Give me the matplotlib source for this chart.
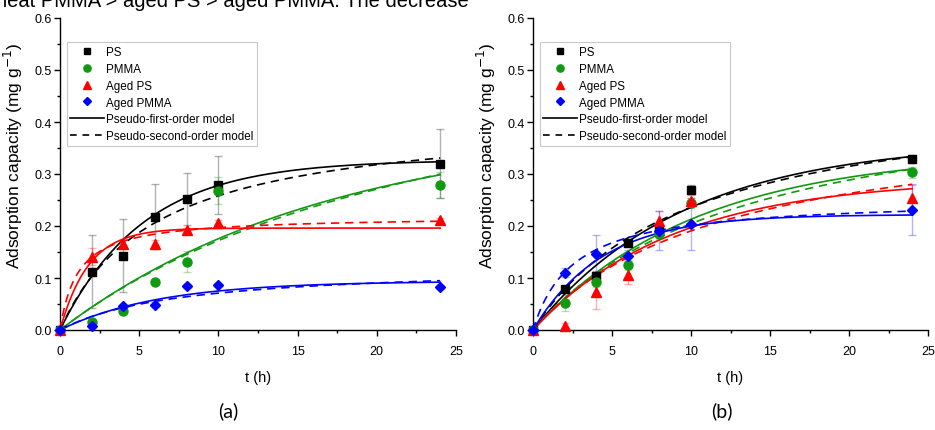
import numpy as np
import matplotlib
matplotlib.use("Agg")
import matplotlib.pyplot as plt
from matplotlib.lines import Line2D
from matplotlib.ticker import MultipleLocator

plt.rcParams['font.family'] = ['Liberation Sans', 'DejaVu Sans']

# ---------------- data ----------------
t = [0, 2, 4, 6, 8, 10, 24]
series_names = ["PS", "PMMA", "Aged PS", "Aged PMMA"]

# panel (a)
a_PS = [0, 0.112, 0.143, 0.218, 0.251, 0.279, 0.320]
a_PMMA = [0, 0.015, 0.037, 0.093, 0.131, 0.268, 0.279]
a_agedPS = [0, 0.141, 0.165, 0.165, 0.192, 0.206, 0.211]
a_agedPMMA = [0, 0.008, 0.046, 0.049, 0.084, 0.087, 0.083]
a_PS_err = [0, 0.070, 0.070, 0.063, 0.050, 0.055, 0.067]
a_PMMA_err = [0, 0.005, 0.005, 0.005, 0.020, 0.026, 0.025]
a_agedPS_err = [0, 0.016, 0.008, 0.008, 0.005, 0.005, 0.005]
a_agedPMMA_err = [0, 0.004, 0.004, 0.004, 0.004, 0.004, 0.004]
# fitted parameters (qe, k) : pseudo-first-order / pseudo-second-order
a_pfo_qe = [0.327, 0.394, 0.196, 0.094]
a_pfo_k = [0.19, 0.059, 0.56, 0.16]
a_pso_qe = [0.414, 0.64, 0.219, 0.125]
a_pso_k = [0.40, 0.0574, 4.06, 1.05]

# panel (b)
b_PS = [0, 0.079, 0.103, 0.167, 0.190, 0.270, 0.329]
b_PMMA = [0, 0.052, 0.092, 0.125, 0.185, 0.244, 0.303]
b_agedPS = [0, 0.008, 0.074, 0.106, 0.210, 0.249, 0.253]
b_agedPMMA = [0, 0.110, 0.146, 0.143, 0.191, 0.204, 0.231]
b_PS_err = [0, 0.005, 0.010, 0.008, 0.010, 0.008, 0.008]
b_PMMA_err = [0, 0.015, 0.010, 0.010, 0.010, 0.010, 0.010]
b_agedPS_err = [0, 0.005, 0.033, 0.017, 0.018, 0.010, 0.025]
b_agedPMMA_err = [0, 0.009, 0.037, 0.010, 0.037, 0.050, 0.049]
b_pfo_qe = [0.363, 0.343, 0.291, 0.222]
b_pfo_k = [0.105, 0.097, 0.113, 0.23]
b_pso_qe = [0.472, 0.489, 0.422, 0.253]
b_pso_k = [0.212, 0.147, 0.195, 1.55]

colors = ["#000000", "#119911", "#ff0000", "#0000ff"]
markers = ["s", "o", "^", "D"]
msizes = [6, 6.5, 7, 5.5]

top_text = "neat PMMA > aged PS > aged PMMA. The decrease"
panel_labels = ["(a)", "(b)"]
xlabel = "t (h)"
ylabel = "Adsorption capacity (mg g$^{-1}$)"
legend_labels = series_names + ["Pseudo-first-order model", "Pseudo-second-order model"]


def pfo(tt, qe, k):
    return qe * (1 - np.exp(-k * tt))


def pso(tt, qe, k):
    return qe ** 2 * k * tt / (1 + qe * k * tt)


fig = plt.figure(figsize=(9.35, 4.31), dpi=100)
ax1 = fig.add_axes([60 / 935, 100 / 431, 396 / 935, 312 / 431])
ax2 = fig.add_axes([533 / 935, 100 / 431, 395 / 935, 312 / 431])

panels = [
    (ax1, [a_PS, a_PMMA, a_agedPS, a_agedPMMA],
     [a_PS_err, a_PMMA_err, a_agedPS_err, a_agedPMMA_err],
     a_pfo_qe, a_pfo_k, a_pso_qe, a_pso_k),
    (ax2, [b_PS, b_PMMA, b_agedPS, b_agedPMMA],
     [b_PS_err, b_PMMA_err, b_agedPS_err, b_agedPMMA_err],
     b_pfo_qe, b_pfo_k, b_pso_qe, b_pso_k),
]

tt = np.linspace(0, 24, 300)
for ax, ys, errs, pq, pk, sq, sk in panels:
    for i in range(4):
        ax.plot(tt, pfo(tt, pq[i], pk[i]), color=colors[i], lw=1.2, zorder=3)
        ax.plot(tt, pso(tt, sq[i], sk[i]), color=colors[i], lw=1.2,
                dashes=(5, 3.5), zorder=3)
    for i in range(4):
        ax.errorbar(t, ys[i], yerr=errs[i], fmt='none', ecolor=colors[i],
                    alpha=0.3, elinewidth=1, capsize=3, capthick=1, zorder=2)
        ax.plot(t, ys[i], linestyle='none', marker=markers[i], ms=msizes[i],
                color=colors[i], mec=colors[i], zorder=4, clip_on=False)
    ax.set_xlim(0, 25)
    ax.set_ylim(0, 0.6)
    ax.xaxis.set_major_locator(MultipleLocator(5))
    ax.xaxis.set_minor_locator(MultipleLocator(2.5))
    ax.yaxis.set_major_locator(MultipleLocator(0.1))
    ax.yaxis.set_minor_locator(MultipleLocator(0.05))
    ax.yaxis.set_major_formatter(matplotlib.ticker.FormatStrFormatter('%.1f'))
    for s in ['top', 'right']:
        ax.spines[s].set_visible(False)
    for s in ['left', 'bottom']:
        ax.spines[s].set_linewidth(1.0)
    ax.tick_params(which='major', direction='out', length=4, width=1, labelsize=9, pad=2)
    ax.tick_params(which='minor', direction='out', length=2.5, width=1)
    ax.tick_params(axis='x', pad=7)
    ax.set_xlabel(xlabel, fontsize=10.5, labelpad=9)
    ax.set_ylabel(ylabel, fontsize=12.5)
    ax.yaxis.set_label_coords(-0.088, 0.56)

    handles = [Line2D([], [], linestyle='none', marker=markers[i], color=colors[i],
                      ms=msizes[i] * 0.8) for i in range(4)]
    handles.append(Line2D([], [], color='black', lw=1.2))
    handles.append(Line2D([], [], color='black', lw=1.2, dashes=(4, 3.5)))
    leg = ax.legend(handles, legend_labels, loc='upper left',
                    bbox_to_anchor=(0.017, 0.922), fontsize=8.4,
                    handlelength=2.9, handletextpad=0.15, labelspacing=0.42,
                    borderpad=0.3, borderaxespad=0, fancybox=False,
                    frameon=True, edgecolor='#bbbbbb')
    leg.get_frame().set_linewidth(0.8)

fig.text(228 / 935, 1 - 411 / 431, panel_labels[0], fontsize=14, family='Lato',
         ha='center', va='center')
fig.text(722 / 935, 1 - 411 / 431, panel_labels[1], fontsize=14, family='Lato',
         ha='center', va='center')
fig.text(-0.004, 1 - 7 / 431, top_text, fontsize=14.5, ha='left', va='baseline')

fig.savefig("out.png", dpi=100)
